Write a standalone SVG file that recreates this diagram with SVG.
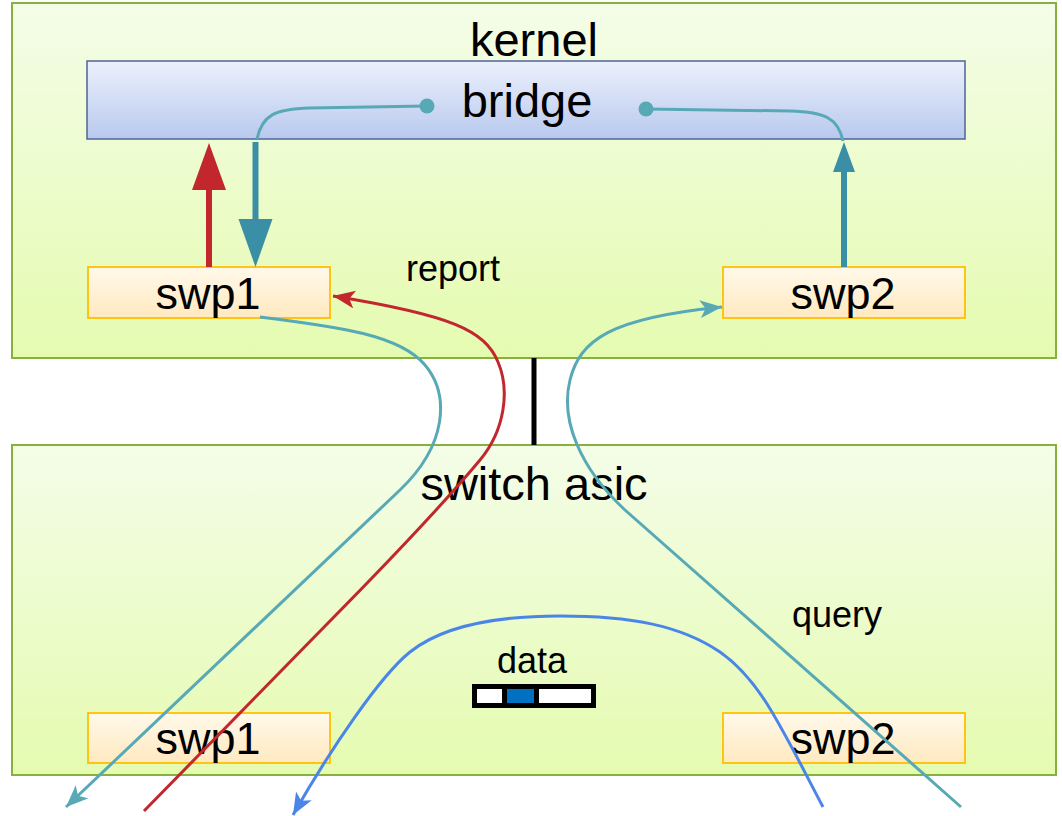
<svg xmlns="http://www.w3.org/2000/svg" width="1062" height="816" viewBox="0 0 1062 816">
  <defs>
    <linearGradient id="gGreen" x1="0" y1="0" x2="0" y2="1">
      <stop offset="0" stop-color="#f4fde8"/>
      <stop offset="1" stop-color="#e5fbb0"/>
    </linearGradient>
    <linearGradient id="gBlue" x1="0" y1="0" x2="0" y2="1">
      <stop offset="0" stop-color="#ebf0fc"/>
      <stop offset="1" stop-color="#b9c9ee"/>
    </linearGradient>
    <linearGradient id="gOrange" x1="0" y1="0" x2="0" y2="1">
      <stop offset="0" stop-color="#fff9ea"/>
      <stop offset="1" stop-color="#ffe9c0"/>
    </linearGradient>
    <marker id="mCyan" markerUnits="userSpaceOnUse" markerWidth="24" markerHeight="20" refX="22" refY="9" orient="auto">
      <path d="M0,0 L22,9 L0,18 L5.5,9 Z" fill="#57a9b6"/>
    </marker>
    <marker id="mRed" markerUnits="userSpaceOnUse" markerWidth="24" markerHeight="20" refX="22" refY="9" orient="auto">
      <path d="M0,0 L22,9 L0,18 L5.5,9 Z" fill="#c1272d"/>
    </marker>
    <marker id="mBlue" markerUnits="userSpaceOnUse" markerWidth="24" markerHeight="20" refX="22" refY="9" orient="auto">
      <path d="M0,0 L22,9 L0,18 L5.5,9 Z" fill="#4a86e8"/>
    </marker>
  </defs>
  <style>
    .region { fill: url(#gGreen); stroke: #88b03c; stroke-width: 2; }
    .bridge { fill: url(#gBlue); stroke: #4f6399; stroke-width: 1.5; }
    .port { fill: url(#gOrange); stroke: #ffbf00; stroke-width: 1.8; }
    .big { font-family: "Liberation Sans", Arial, sans-serif; font-size: 47px; fill: #000; text-anchor: middle; }
    .portlbl { font-family: "Liberation Sans", Arial, sans-serif; font-size: 45px; fill: #000; text-anchor: middle; }
    .small { font-family: "Liberation Sans", Arial, sans-serif; font-size: 36px; fill: #000; text-anchor: middle; }
    .cyan { fill: none; stroke: #57a9b6; stroke-width: 3; }
    .red { fill: none; stroke: #c1272d; stroke-width: 3; }
    .blue { fill: none; stroke: #4a86e8; stroke-width: 3; }
  </style>

  <g id="kernel">
    <rect class="region" x="12" y="3" width="1044" height="355"/>
    <text class="big" x="534" y="56">kernel</text>
  </g>

  <g id="switch-asic">
    <rect class="region" x="12" y="445" width="1044" height="330"/>
    <text class="big" x="534" y="500">switch asic</text>
  </g>

  <g id="bridge">
    <rect class="bridge" x="87" y="61" width="878" height="78"/>
    <text class="big" x="527" y="117">bridge</text>
  </g>

  <g id="kernel-swp1">
    <rect class="port" x="88" y="267" width="242" height="51"/>
    <text class="portlbl" x="208" y="309">swp1</text>
  </g>

  <g id="kernel-swp2">
    <rect class="port" x="723" y="267" width="242" height="51"/>
    <text class="portlbl" x="843" y="309">swp2</text>
  </g>

  <g id="asic-swp1">
    <rect class="port" x="88" y="713" width="242" height="50"/>
    <text class="portlbl" x="208" y="754">swp1</text>
  </g>

  <g id="asic-swp2">
    <rect class="port" x="723" y="713" width="242" height="50"/>
    <text class="portlbl" x="843" y="754">swp2</text>
  </g>

  <g id="data">
    <text class="small" x="532" y="673">data</text>
    <rect x="474.5" y="686.5" width="30" height="19" fill="#ffffff" stroke="#000" stroke-width="5"/>
    <rect x="504.5" y="686.5" width="32" height="19" fill="#0070c0" stroke="#000" stroke-width="5"/>
    <rect x="536.5" y="686.5" width="57" height="19" fill="#ffffff" stroke="#000" stroke-width="5"/>
  </g>

  <g id="labels">
    <text class="small" x="453" y="281">report</text>
    <text class="small" x="837" y="627">query</text>
  </g>

  <g id="connectors">
    <line x1="534" y1="358" x2="534" y2="445" stroke="#000" stroke-width="5"/>
    <!-- bridge internal links -->
    <path class="cyan" d="M427,106 L310,108 C275,109 262,115 257,139"/>
    <circle cx="427" cy="106" r="7.5" fill="#57a9b6"/>
    <path class="cyan" d="M646,109 L790,111 C825,112 838,118 843,141"/>
    <circle cx="646" cy="109" r="7.5" fill="#57a9b6"/>
    <!-- thick block arrows -->
    <line x1="209" y1="267" x2="209" y2="188" stroke="#c1272d" stroke-width="6"/>
    <polygon points="192,190 226,190 209,143" fill="#c1272d"/>
    <line x1="255.5" y1="142" x2="255.5" y2="222" stroke="#3a8fa6" stroke-width="6"/>
    <polygon points="238.5,219 272.5,219 255.5,267" fill="#3a8fa6"/>
    <line x1="844" y1="267" x2="844" y2="170" stroke="#3a8fa6" stroke-width="6"/>
    <polygon points="833,172 855,172 844,142" fill="#3a8fa6"/>
    <!-- curves -->
    <path class="cyan" marker-end="url(#mCyan)" d="M260,317 C340,327 400,335 425,365 C450,395 447,445 400,490 L66,807"/>
    <path class="red" marker-end="url(#mRed)" d="M144,811 L330,621 C400,550 455,490 480,460 C505,430 510,390 498,362 C485,330 450,315 333,296"/>
    <path class="cyan" marker-end="url(#mCyan)" d="M961,807 L625,510 C580,468 560,420 570,380 C580,340 610,318 722,307"/>
    <path class="blue" marker-end="url(#mBlue)" d="M823,807 C780,725 760,680 720,652 C680,625 630,616 560,616 C490,616 440,628 410,652 C380,676 330,750 293,815"/>
  </g>
</svg>
